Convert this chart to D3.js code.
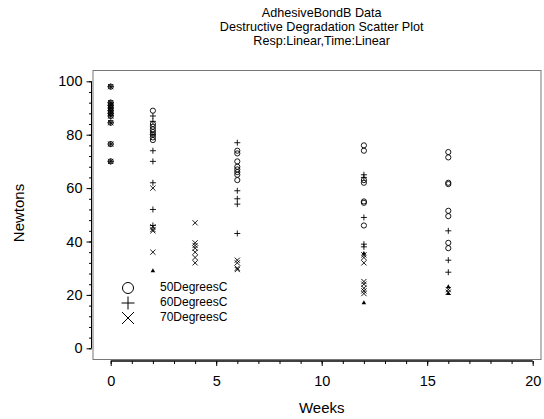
<!DOCTYPE html>
<html>
<head>
<meta charset="utf-8">
<script src="https://cdn.jsdelivr.net/npm/d3@7"></script>
<style>
body { margin: 0; background: #fff; }
svg { font-family: "Liberation Sans", Arial, sans-serif; }
</style>
</head>
<body>
<div id="chart"></div>
<script>
// data (weeks, newtons)
var titleLines = ["AdhesiveBondB Data", "Destructive Degradation Scatter Plot", "Resp:Linear,Time:Linear"];
var legendLabels = ["50DegreesC", "60DegreesC", "70DegreesC"];
var xTicks = [0, 5, 10, 15, 20];
var yTicks = [0, 20, 40, 60, 80, 100];

var baseline = [98, 92, 91, 90, 89, 88, 87, 84.5, 76.5, 70];

var deg50 = [
  [2, 89], [2, 84], [2, 83], [2, 82], [2, 81], [2, 80], [2, 79], [2, 78],
  [6, 74], [6, 73], [6, 70], [6, 68], [6, 67], [6, 66], [6, 65], [6, 63],
  [12, 76], [12, 74], [12, 63], [12, 62], [12, 55], [12, 54.5], [12, 46],
  [16, 73.5], [16, 71.5], [16, 62], [16, 61.5], [16, 51.5], [16, 49.5], [16, 39.5], [16, 37.5]
];
var deg60 = [
  [2, 87], [2, 85], [2, 80], [2, 74], [2, 70], [2, 62], [2, 52], [2, 46],
  [6, 77], [6, 59], [6, 56], [6, 54], [6, 43],
  [12, 65], [12, 64], [12, 49], [12, 39], [12, 38],
  [16, 44], [16, 33], [16, 28.5]
];
var deg70 = [
  [2, 60], [2, 45.5], [2, 44.5], [2, 44], [2, 36],
  [4, 47], [4, 39.5], [4, 38.5], [4, 37.5], [4, 36], [4, 34], [4, 32],
  [6, 33], [6, 32], [6, 30], [6, 29.5],
  [12, 35], [12, 34], [12, 32], [12, 25], [12, 24], [12, 22.5], [12, 21.5], [12, 20.5],
  [16, 22], [16, 21]
];
var lowMarks = [[2, 29], [12, 35.5], [12, 17], [16, 23], [16, 20.5]];

var width = 544, height = 419;
var svg = d3.select("#chart").append("svg")
  .attr("width", width)
  .attr("height", height);

var x = d3.scaleLinear().domain([0, 20]).range([110.7, 532.7]);
var y = d3.scaleLinear().domain([0, 100]).range([348.3, 81.3]);

// plot frame
svg.append("rect")
  .attr("x", 93).attr("y", 70.5)
  .attr("width", 448).attr("height", 289)
  .attr("fill", "none")
  .attr("stroke", "#777")
  .attr("stroke-width", 1);

// title
svg.append("g").selectAll("text")
  .data(titleLines)
  .enter().append("text")
  .attr("x", 321.7)
  .attr("y", function(d, i) { return 14 + i * 13.8; })
  .attr("text-anchor", "middle")
  .attr("dominant-baseline", "middle")
  .style("font-size", "12.6px")
  .text(function(d) { return d; });

// y axis
var yMinor = svg.append("g").attr("transform", "translate(91.5,0)")
  .call(d3.axisLeft(y).tickValues(d3.range(0, 101, 4)).tickSize(2.5).tickFormat(""));
yMinor.select(".domain").remove();
var yMajor = svg.append("g").attr("transform", "translate(91.5,0)")
  .call(d3.axisLeft(y).tickValues(yTicks).tickSize(5).tickPadding(4));
yMajor.selectAll("text").style("font-size", "14.5px").attr("fill", "#000");
yMajor.select(".domain").attr("d", "M0," + y(100) + "V" + y(0));

// x axis
var xMinor = svg.append("g").attr("transform", "translate(0,361)")
  .call(d3.axisBottom(x).tickValues(d3.range(0, 21, 1)).tickSize(3).tickFormat(""));
xMinor.select(".domain").remove();
var xMajor = svg.append("g").attr("transform", "translate(0,361)")
  .call(d3.axisBottom(x).tickValues(xTicks).tickSize(5).tickPadding(10));
xMajor.selectAll("text").style("font-size", "14.5px").attr("fill", "#000");
xMajor.select(".domain").attr("d", "M" + x(0) + ",0H" + x(20)).attr("stroke-width", 1.5);

// axis titles
svg.append("text")
  .attr("x", 321.7).attr("y", 409)
  .attr("text-anchor", "middle")
  .attr("dominant-baseline", "middle")
  .style("font-size", "15px")
  .text("Weeks");
svg.append("text")
  .attr("transform", "translate(20,213) rotate(-90)")
  .attr("text-anchor", "middle")
  .attr("dominant-baseline", "middle")
  .style("font-size", "15px")
  .text("Newtons");

// markers
var r = 2.6;
function drawCircles(g, pts) {
  g.selectAll("circle.c").data(pts).enter().append("circle")
    .attr("cx", function(d) { return x(d[0]); })
    .attr("cy", function(d) { return y(d[1]); })
    .attr("r", r)
    .attr("fill", "none").attr("stroke", "#000").attr("stroke-width", 0.9);
}
function drawPlus(g, pts) {
  g.selectAll("path.p").data(pts).enter().append("path")
    .attr("d", function(d) {
      var cx = x(d[0]), cy = y(d[1]), s = 3;
      return "M" + (cx - s) + "," + cy + "H" + (cx + s) + "M" + cx + "," + (cy - s) + "V" + (cy + s);
    })
    .attr("fill", "none").attr("stroke", "#000").attr("stroke-width", 0.9);
}
function drawCross(g, pts) {
  g.selectAll("path.x").data(pts).enter().append("path")
    .attr("d", function(d) {
      var cx = x(d[0]), cy = y(d[1]), s = 2.6;
      return "M" + (cx - s) + "," + (cy - s) + "L" + (cx + s) + "," + (cy + s) +
        "M" + (cx - s) + "," + (cy + s) + "L" + (cx + s) + "," + (cy - s);
    })
    .attr("fill", "none").attr("stroke", "#000").attr("stroke-width", 0.9);
}

var base = baseline.map(function(v) { return [0, v]; });
var marks = svg.append("g");
drawCircles(marks.append("g"), deg50.concat(base));
drawPlus(marks.append("g"), deg60.concat(base));
drawCross(marks.append("g"), deg70.concat(base));

marks.append("g").selectAll("path")
  .data(lowMarks).enter().append("path")
  .attr("d", d3.symbol().type(d3.symbolTriangle).size(9))
  .attr("transform", function(d) { return "translate(" + x(d[0]) + "," + y(d[1]) + ")"; })
  .attr("fill", "#000");

// legend
var leg = svg.append("g");
var legY = [288, 303, 318];
leg.append("circle").attr("cx", 128).attr("cy", legY[0]).attr("r", 5.5)
  .attr("fill", "none").attr("stroke", "#000");
leg.append("path").attr("d", "M121.5," + legY[1] + "H134.5M128," + (legY[1] - 6.5) + "V" + (legY[1] + 6.5))
  .attr("stroke", "#000");
leg.append("path").attr("d", "M122," + (legY[2] - 6) + "L134," + (legY[2] + 6) + "M122," + (legY[2] + 6) + "L134," + (legY[2] - 6))
  .attr("stroke", "#000");
leg.selectAll("text").data(legendLabels).enter().append("text")
  .attr("x", 160)
  .attr("y", function(d, i) { return legY[i]; })
  .attr("dominant-baseline", "middle")
  .style("font-size", "12px")
  .text(function(d) { return d; });
</script>
</body>
</html>
